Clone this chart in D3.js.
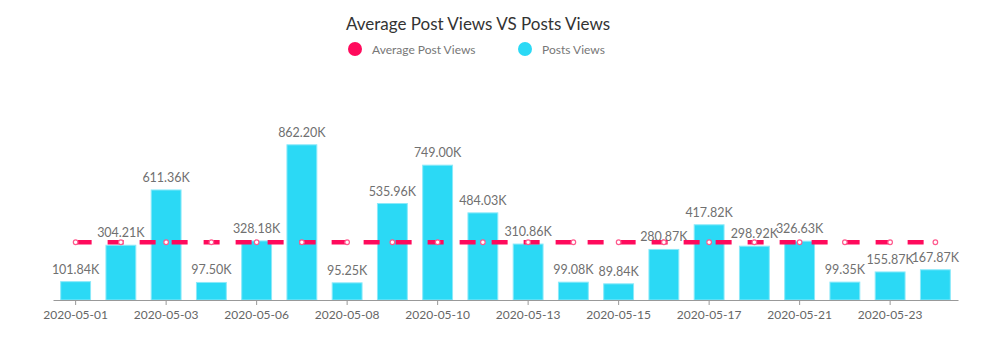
<!DOCTYPE html>
<html>
<head>
<meta charset="utf-8">
<script src="https://cdn.jsdelivr.net/npm/d3@7"></script>
<style>
  html, body { margin: 0; padding: 0; background: #fff; }
  svg { display: block; font-family: Lato, "Open Sans", sans-serif; }
</style>
</head>
<body>
<svg id="chart" width="990" height="341"></svg>
<script>
const categories = ["2020-05-01","2020-05-02","2020-05-03","2020-05-05","2020-05-06","2020-05-07","2020-05-08","2020-05-09","2020-05-10","2020-05-12","2020-05-13","2020-05-14","2020-05-15","2020-05-16","2020-05-17","2020-05-19","2020-05-21","2020-05-22","2020-05-23","2020-05-24"];
const postsViews = [101840, 304210, 611360, 97500, 328180, 862200, 95250, 535960, 749000, 484030, 310860, 99080, 89840, 280870, 417820, 298920, 326630, 99350, 155870, 167870];
const averageViews = [320830, 320830, 320830, 320830, 320830, 320830, 320830, 320830, 320830, 320830, 320830, 320830, 320830, 320830, 320830, 320830, 320830, 320830, 320830, 320830];
const shownTicks = ["2020-05-01","2020-05-03","2020-05-06","2020-05-08","2020-05-10","2020-05-13","2020-05-15","2020-05-17","2020-05-21","2020-05-23"];
const seriesNames = ["Average Post Views", "Posts Views"];
const colors = ["#FF0A5C", "#2BD9F5"];

const svg = d3.select("#chart");
const margin = {left: 53, right: 32, top: 120, bottom: 41};
const W = 990, H = 341;

const x = d3.scaleBand().domain(categories).range([margin.left, W - margin.right]).paddingInner(0.34).paddingOuter(0.17);
const y = d3.scaleLinear().domain([0, 1000000]).range([H - margin.bottom, H - margin.bottom - 180]);

// title
svg.append("text").attr("x", 478).attr("y", 30).attr("text-anchor", "middle")
  .attr("font-size", 17).attr("fill", "#333").text("Average Post Views VS Posts Views");

// legend
const legendX = [355, 525];
seriesNames.forEach((n, i) => {
  svg.append("circle").attr("cx", legendX[i]).attr("cy", 49).attr("r", 7).attr("fill", colors[i]);
  svg.append("text").attr("x", legendX[i] + 17).attr("y", 53.5).attr("font-size", 12)
    .attr("fill", "#777").text(n);
});

// bars
svg.append("g").selectAll("rect").data(postsViews).join("rect")
  .attr("x", (d, i) => x(categories[i]))
  .attr("y", d => y(d))
  .attr("width", x.bandwidth())
  .attr("height", d => y(0) - y(d))
  .attr("fill", colors[1])
  .attr("stroke", "#8be9f9").attr("stroke-width", 1);

// value labels
svg.append("g").selectAll("text").data(postsViews).join("text")
  .attr("x", (d, i) => x(categories[i]) + x.bandwidth() / 2)
  .attr("y", d => y(d) - 8)
  .attr("text-anchor", "middle").attr("font-size", 12.5).attr("fill", "#707070")
  .text(d => d3.format(".2f")(d / 1000) + "K");

// x axis
const axis = d3.axisBottom(x).tickValues(shownTicks).tickSize(5).tickSizeOuter(0);
const gx = svg.append("g").attr("transform", `translate(0,${y(0)})`).call(axis);
gx.select(".domain").attr("stroke", "#999").attr("stroke-width", 1.2);
gx.selectAll(".tick line").attr("stroke", "#999");
gx.selectAll(".tick text").attr("fill", "#666").attr("font-size", 12).attr("font-family", "Lato, 'Open Sans', sans-serif").attr("dy", "0.9em");

// average line
const cx = (i) => x(categories[i]) + x.bandwidth() / 2;
const line = d3.line().x((d, i) => cx(i)).y(d => y(d));
svg.append("path").datum(averageViews).attr("d", line)
  .attr("fill", "none").attr("stroke", colors[0]).attr("stroke-width", 4.5)
  .attr("stroke-dasharray", "16,16");
svg.append("g").selectAll("circle").data(averageViews).join("circle")
  .attr("cx", (d, i) => cx(i)).attr("cy", d => y(d)).attr("r", 2.3)
  .attr("fill", "#fff").attr("stroke", "#ff5a8e").attr("stroke-width", 1.2);
</script>
</body>
</html>
